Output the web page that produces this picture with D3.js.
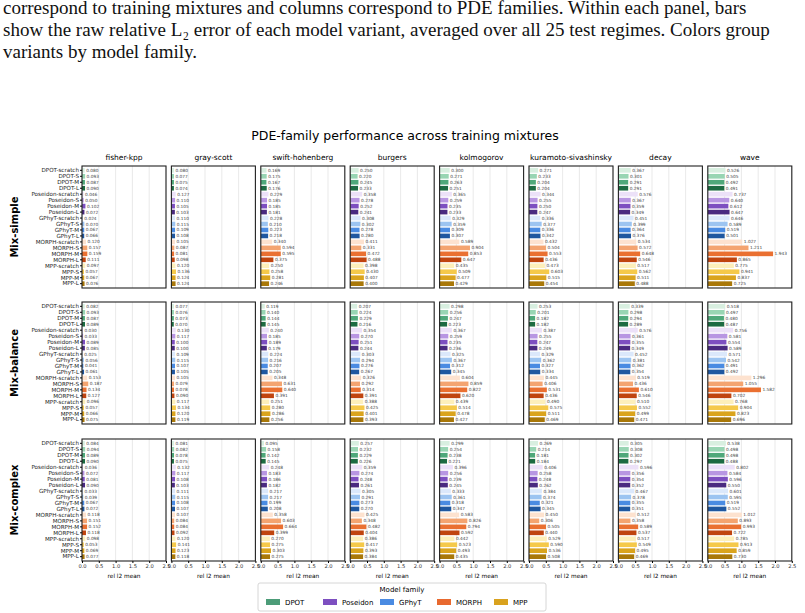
<!DOCTYPE html>
<html>
<head>
<meta charset="utf-8">
<script src="https://cdn.jsdelivr.net/npm/d3@7"></script>
<style>
  body { margin: 0; background: #fff; }
  .caption { font-family: "Liberation Serif", serif; font-size: 19px; fill: #111; }
</style>
</head>
<body>
<svg id="chart" width="805" height="613"></svg>
<script>
const families = ['DPOT', 'Poseidon', 'GPhyT', 'MORPH', 'MPP']
const sizes = ['scratch', 'S', 'M', 'L']
const variants = families.flatMap(f => sizes.map(s => f + '-' + s))
const pdes = ['fisher-kpp', 'gray-scott', 'swift-hohenberg', 'burgers', 'kolmogorov', 'kuramoto-sivashinsky', 'decay', 'wave']
const mixtures = ['Mix-simple', 'Mix-balance', 'Mix-complex']
const xTicks = [0, 0.5, 1.0, 1.5, 2.0, 2.5]

const mixSimple = [
  [0.080,0.093,0.087,0.090,0.046,0.050,0.102,0.072,0.024,0.070,0.067,0.066,0.120,0.157,0.159,0.111,0.097,0.057,0.067,0.076],
  [0.080,0.077,0.075,0.074,0.127,0.110,0.105,0.103,0.110,0.115,0.109,0.108,0.105,0.087,0.081,0.098,0.120,0.136,0.124,0.124],
  [0.169,0.175,0.167,0.176,0.229,0.185,0.185,0.181,0.228,0.210,0.223,0.218,0.340,0.594,0.595,0.375,0.250,0.258,0.281,0.246],
  [0.250,0.220,0.245,0.233,0.358,0.278,0.252,0.241,0.308,0.302,0.278,0.280,0.411,0.331,0.472,0.488,0.398,0.430,0.407,0.400],
  [0.300,0.271,0.263,0.251,0.365,0.259,0.235,0.233,0.329,0.359,0.309,0.307,0.589,0.904,0.853,0.647,0.435,0.509,0.477,0.429],
  [0.271,0.233,0.204,0.204,0.344,0.255,0.250,0.247,0.336,0.377,0.336,0.342,0.432,0.504,0.553,0.436,0.473,0.603,0.515,0.454],
  [0.367,0.301,0.291,0.291,0.576,0.367,0.359,0.349,0.451,0.399,0.364,0.376,0.534,0.572,0.648,0.546,0.517,0.562,0.511,0.488],
  [0.526,0.505,0.492,0.491,0.737,0.640,0.612,0.647,0.646,0.589,0.519,0.501,1.027,1.211,1.943,0.865,0.775,0.941,0.837,0.725]
]
const mixBalance = [
  [0.082,0.093,0.087,0.089,0.030,0.033,0.089,0.085,0.025,0.056,0.041,0.061,0.153,0.187,0.134,0.127,0.096,0.057,0.066,0.075],
  [0.077,0.076,0.073,0.070,0.130,0.117,0.100,0.100,0.109,0.115,0.107,0.105,0.105,0.079,0.078,0.090,0.117,0.134,0.120,0.119],
  [0.119,0.140,0.144,0.145,0.240,0.185,0.189,0.179,0.224,0.216,0.207,0.205,0.348,0.631,0.640,0.391,0.251,0.280,0.286,0.256],
  [0.207,0.224,0.229,0.216,0.354,0.270,0.251,0.244,0.303,0.294,0.276,0.267,0.326,0.292,0.314,0.391,0.388,0.425,0.401,0.393],
  [0.298,0.256,0.247,0.223,0.367,0.259,0.235,0.236,0.325,0.367,0.312,0.345,0.604,0.859,0.822,0.620,0.439,0.514,0.478,0.427],
  [0.253,0.201,0.182,0.182,0.387,0.255,0.247,0.249,0.329,0.362,0.327,0.334,0.445,0.406,0.531,0.436,0.490,0.575,0.511,0.469],
  [0.339,0.298,0.294,0.289,0.576,0.361,0.355,0.349,0.452,0.381,0.362,0.354,0.519,0.436,0.610,0.546,0.510,0.552,0.499,0.471],
  [0.518,0.497,0.480,0.487,0.756,0.581,0.554,0.589,0.571,0.542,0.491,0.492,1.296,1.055,1.582,0.702,0.768,0.904,0.823,0.696]
]
const mixComplex = [
  [0.084,0.094,0.089,0.090,0.036,0.072,0.081,0.090,0.033,0.039,0.067,0.072,0.118,0.151,0.152,0.118,0.098,0.053,0.069,0.077],
  [0.081,0.082,0.078,0.075,0.132,0.117,0.108,0.103,0.111,0.115,0.108,0.107,0.107,0.084,0.084,0.092,0.120,0.141,0.123,0.118],
  [0.095,0.158,0.142,0.145,0.248,0.183,0.186,0.182,0.217,0.217,0.199,0.208,0.358,0.603,0.664,0.399,0.270,0.275,0.303,0.275],
  [0.257,0.232,0.229,0.226,0.359,0.274,0.248,0.261,0.305,0.291,0.273,0.270,0.425,0.348,0.482,0.404,0.386,0.417,0.393,0.384],
  [0.299,0.254,0.238,0.221,0.396,0.256,0.239,0.245,0.333,0.361,0.318,0.347,0.583,0.826,0.794,0.592,0.442,0.523,0.493,0.435],
  [0.269,0.214,0.181,0.184,0.406,0.258,0.248,0.262,0.384,0.374,0.321,0.345,0.450,0.306,0.505,0.440,0.529,0.590,0.536,0.508],
  [0.305,0.308,0.302,0.297,0.596,0.356,0.354,0.352,0.467,0.378,0.355,0.351,0.512,0.358,0.589,0.537,0.517,0.549,0.495,0.469],
  [0.538,0.498,0.498,0.488,0.802,0.584,0.596,0.550,0.601,0.595,0.519,0.552,1.012,0.893,0.993,0.722,0.785,0.913,0.859,0.730]
]
const allData = [mixSimple, mixBalance, mixComplex]

// shades per family: scratch, S, M, L
const shades = {
  DPOT: ['#d8efe0', '#98d5b3', '#4fa87a', '#1d6b42'],
  Poseidon: ['#ece1f8', '#b896e2', '#7d4fc0', '#4a2a80'],
  GPhyT: ['#dbe8fb', '#9cc4f1', '#4a8be2', '#1f57a0'],
  MORPH: ['#fde2cf', '#f4a470', '#ea7031', '#c0440f'],
  MPP: ['#fdefba', '#f5c94a', '#daa41d', '#a97809']
}
const legendColors = ['#4c9c78', '#7d4fc0', '#4a8be2', '#e8692f', '#d9a21e']
const colorOf = v => { const [f, s] = v.split('-'); return shades[f][sizes.indexOf(s)] }

const svg = d3.select('#chart')

// caption text from paper
const cap = ['correspond to training mixtures and columns correspond to PDE families. Within each panel, bars',
  'show the raw relative L\u2082 error of each model variant, averaged over all 25 test regimes. Colors group',
  'variants by model family.']
cap.forEach((t, i) => svg.append('text').attr('class', 'caption').attr('x', 3).attr('y', 14 + i * 22).text(t))

svg.append('text').attr('x', 405).attr('y', 140).attr('text-anchor', 'middle')
  .style('font-family', 'DejaVu Sans').style('font-size', '12.5px').text('PDE-family performance across training mixtures')

const pw = 84, ph = 122, left0 = 82, pitchX = 89.4
const tops = [166, 302, 439]

const x = d3.scaleLinear().domain([0, 2.5]).range([0, pw])
const y = d3.scaleBand().domain(variants).range([2, ph - 2]).paddingInner(0.22)

allData.forEach((rowData, r) => {
  svg.append('text').attr('transform', `translate(18,${tops[r] + ph / 2}) rotate(-90)`)
    .attr('text-anchor', 'middle').style('font-family', 'DejaVu Sans').style('font-size', '10px')
    .style('font-weight', 'bold').text(mixtures[r])

  rowData.forEach((vals, c) => {
    const g = svg.append('g').attr('transform', `translate(${left0 + c * pitchX},${tops[r]})`)
    if (r === 0) {
      g.append('text').attr('x', pw / 2).attr('y', -6).attr('text-anchor', 'middle')
        .style('font-family', 'DejaVu Sans').style('font-size', '7.5px').text(pdes[c])
    }
    g.selectAll('.grid').data(xTicks).join('line')
      .attr('x1', d => x(d)).attr('x2', d => x(d)).attr('y1', 0).attr('y2', ph)
      .attr('stroke', '#e3e3e3').attr('stroke-width', 0.8)
    g.selectAll('.bar').data(vals).join('rect')
      .attr('x', 0).attr('y', (d, i) => y(variants[i]))
      .attr('width', d => x(d)).attr('height', y.bandwidth())
      .attr('fill', (d, i) => colorOf(variants[i]))
    g.selectAll('.lab').data(vals).join('text')
      .attr('x', d => x(d) + 1.5).attr('y', (d, i) => y(variants[i]) + y.bandwidth() / 2)
      .attr('dy', '0.35em').style('font-family', 'DejaVu Sans').style('font-size', '4.3px')
      .attr('fill', '#444').text(d => d.toFixed(3))
    g.append('rect').attr('width', pw).attr('height', ph).attr('fill', 'none')
      .attr('stroke', '#222').attr('stroke-width', 1.1)
    if (c === 0) {
      const ya = g.append('g').call(d3.axisLeft(y).tickSize(2).tickPadding(1))
      ya.select('.domain').remove()
      ya.selectAll('text').style('font-family', 'DejaVu Sans').style('font-size', '5.6px').attr('fill', '#222')
    }
    if (r === 2) {
      const xa = g.append('g').attr('transform', `translate(0,${ph})`)
        .call(d3.axisBottom(x).tickValues(xTicks).tickFormat(d3.format('.1f')).tickSize(2).tickPadding(1.5))
      xa.select('.domain').remove()
      xa.selectAll('text').style('font-family', 'DejaVu Sans').style('font-size', '5.2px').attr('fill', '#333')
      g.append('text').attr('x', pw / 2).attr('y', ph + 17).attr('text-anchor', 'middle')
        .style('font-family', 'DejaVu Sans').style('font-size', '5.8px').text('rel l2 mean')
    }
  })
})

// legend
const lg = svg.append('g').attr('transform', 'translate(258,583)')
lg.append('rect').attr('width', 288).attr('height', 28).attr('rx', 2)
  .attr('fill', '#fff').attr('stroke', '#ccc').attr('stroke-width', 0.8)
lg.append('text').attr('x', 144).attr('y', 9).attr('text-anchor', 'middle')
  .style('font-family', 'DejaVu Sans').style('font-size', '7px').text('Model family')
const item = lg.selectAll('.item').data(families).join('g')
  .attr('transform', (d, i) => `translate(${8 + i * 57},15)`)
item.append('rect').attr('width', 14).attr('height', 6).attr('y', 1).attr('fill', (d, i) => legendColors[i])
item.append('text').attr('x', 19).attr('y', 6.5).style('font-family', 'DejaVu Sans')
  .style('font-size', '7px').text(d => d)
</script>
</body>
</html>
